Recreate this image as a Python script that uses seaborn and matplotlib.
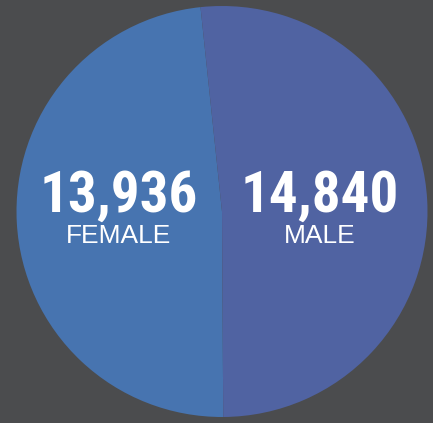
import matplotlib.pyplot as plt
import seaborn as sns

# data
genders = ['FEMALE', 'MALE']
counts = [13936, 14840]
colors = ['#4774b0', '#5063a2']

sns.set_theme(style='dark')
plt.rcParams['font.family'] = ['Roboto Condensed', 'Archivo Narrow', 'DejaVu Sans']

fig = plt.figure(figsize=(4.33, 4.23), dpi=100)
fig.patch.set_facecolor('#4b4c4e')
ax = fig.add_axes([0, 0, 1, 1])
ax.set_facecolor('#4b4c4e')

# pie in pixel-like data coords
ax.pie(counts, colors=colors, startangle=96, counterclock=True,
       center=(222, 211.5), radius=205.5, frame=True,
       wedgeprops={'linewidth': 0})
ax.set_xlim(0, 433)
ax.set_ylim(0, 423)
ax.set_aspect('equal')
ax.axis('off')

# labels
label_x = [119, 320]
for x, g, c in zip(label_x, genders, counts):
    ax.text(x, 211, f'{c:,}', ha='center', va='baseline', color='white',
            fontsize=41, fontweight='bold')
    ax.text(x, 180, g, ha='center', va='baseline', color='white',
            fontsize=19, family=['Liberation Sans', 'DejaVu Sans'])

fig.savefig('out.png', dpi=100, facecolor=fig.get_facecolor())
